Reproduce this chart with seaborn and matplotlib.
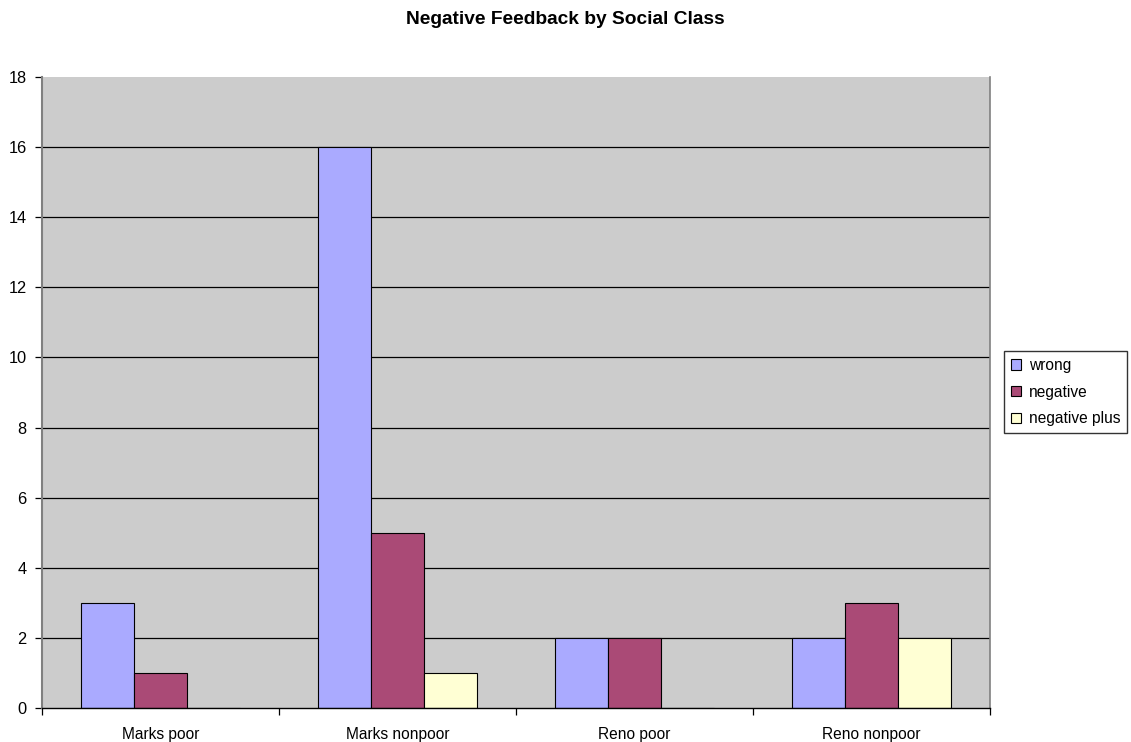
import matplotlib
matplotlib.use("Agg")
import matplotlib.pyplot as plt
import seaborn as sns
import pandas as pd
import numpy as np
from matplotlib.patches import Patch

categories = ["Marks poor", "Marks nonpoor", "Reno poor", "Reno nonpoor"]
series = ["wrong", "negative", "negative plus"]
wrong = [3, 16, 2, 2]
negative = [1, 5, 2, 3]
negative_plus = [0, 1, 0, 2]
colors = ["#AAAAFF", "#AA4A76", "#FFFFD4"]

df = pd.DataFrame({
    "category": categories * 3,
    "series": [series[0]] * 4 + [series[1]] * 4 + [series[2]] * 4,
    "value": wrong + negative + negative_plus,
})

sns.set_theme(style="white")
plt.rcParams["font.family"] = ["Liberation Sans", "DejaVu Sans"]
plt.rcParams["text.color"] = "black"
plt.rcParams["xtick.labelcolor"] = "black"
plt.rcParams["ytick.labelcolor"] = "black"

fig = plt.figure(figsize=(11.31, 7.42), dpi=100)
ax = fig.add_axes([42 / 1131, 1 - 708 / 742, 948 / 1131, 631 / 742])
ax.set_facecolor("#CCCCCC")

sns.barplot(data=df, x="category", y="value", hue="series", order=categories,
            hue_order=series, palette=colors, saturation=1, width=0.67, gap=0,
            edgecolor="black", linewidth=0.8, ax=ax, legend=False, zorder=3)

ax.set_ylim(0, 18)
ax.set_yticks(np.arange(0, 19, 2))
ax.set_xlim(-0.5, 3.5)
ax.yaxis.grid(True, color="black", linewidth=0.9, zorder=1)
ax.set_axisbelow(True)
ax.set_xlabel("")
ax.set_ylabel("")

# Category separators as minor ticks on x
ax.set_xticks(np.arange(len(categories)))
ax.set_xticklabels(categories, fontsize=11.2, color="black")
ax.set_xticks(np.arange(-0.5, 4.0, 1.0), minor=True)
ax.tick_params(axis="x", which="major", length=0, pad=14)
ax.tick_params(axis="x", which="minor", length=5, width=0.9, color="black", direction="out")
ax.tick_params(axis="y", length=5, width=0.9, color="black", direction="out",
               labelsize=11.8, pad=6, labelcolor="black")
ax.tick_params(left=True, bottom=True, which="both")

# no rule along the top edge of the plot area
fig.canvas.draw()
for val, line in zip(ax.get_yticks(), ax.yaxis.get_gridlines()):
    if val >= 18 or val <= 0:
        line.set_visible(False)

ax.spines["top"].set_visible(False)
ax.spines["left"].set_color("#808080")
ax.spines["left"].set_linewidth(1.5)
ax.spines["right"].set_color("#808080")
ax.spines["right"].set_linewidth(1.2)
ax.spines["bottom"].set_color("black")
ax.spines["bottom"].set_linewidth(1.0)
ax.spines["bottom"].set_zorder(4)

fig.suptitle("Negative Feedback by Social Class", x=0.5, y=0.985,
             fontsize=13.8, fontweight="bold", color="black")

handles = [Patch(facecolor=c, edgecolor="black", linewidth=0.8, label=s)
           for c, s in zip(colors, series)]
leg = fig.legend(handles=handles, loc="center left",
                 bbox_to_anchor=(1004 / 1131, 1 - 392 / 742),
                 fontsize=11.2, frameon=True, fancybox=False,
                 handlelength=0.65, handleheight=0.65, handletextpad=0.5,
                 borderpad=0.45, labelspacing=0.75, borderaxespad=0)
leg.get_frame().set_edgecolor("black")
leg.get_frame().set_linewidth(1.0)
for t in leg.get_texts():
    t.set_color("black")

fig.savefig("out.png", dpi=100)
